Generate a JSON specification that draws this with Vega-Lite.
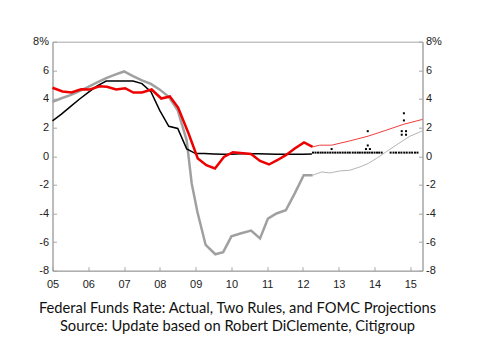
{
  "$schema": "https://vega.github.io/schema/vega-lite/v6.json",
  "width": 370,
  "height": 229,
  "autosize": {"type": "none"},
  "padding": {"left": 52.5, "top": 41.7, "right": 57.3, "bottom": 89.3},
  "background": "white",
  "config": {
    "view": {"stroke": "#a6a6a6", "strokeWidth": 1},
    "axis": {
      "labelFont": "Liberation Sans",
      "labelFontSize": 11,
      "labelColor": "#222222",
      "domainColor": "#a6a6a6",
      "tickColor": "#a6a6a6",
      "grid": false,
      "labelOverlap": false,
      "title": null
    },
    "title": {"font": "Lato", "fontSize": 14.7, "color": "#111111", "fontWeight": "normal", "lineHeight": 18}
  },
  "title": {
    "text": ["Federal Funds Rate: Actual, Two Rules, and FOMC Projections", "Source: Update based on Robert DiClemente, Citigroup"],
    "orient": "bottom",
    "anchor": "middle",
    "offset": 11
  },
  "datasets": {
    "lines": [
      {"series": "actual", "year": 2005, "rate": 2.47},
      {"series": "actual", "year": 2005.25, "rate": 2.94},
      {"series": "actual", "year": 2005.5, "rate": 3.46},
      {"series": "actual", "year": 2005.75, "rate": 3.98},
      {"series": "actual", "year": 2006, "rate": 4.46},
      {"series": "actual", "year": 2006.25, "rate": 4.91},
      {"series": "actual", "year": 2006.5, "rate": 5.25},
      {"series": "actual", "year": 2006.75, "rate": 5.25},
      {"series": "actual", "year": 2007, "rate": 5.26},
      {"series": "actual", "year": 2007.25, "rate": 5.25},
      {"series": "actual", "year": 2007.5, "rate": 5.07},
      {"series": "actual", "year": 2007.75, "rate": 4.5},
      {"series": "actual", "year": 2008, "rate": 3.18},
      {"series": "actual", "year": 2008.25, "rate": 2.09},
      {"series": "actual", "year": 2008.5, "rate": 1.94},
      {"series": "actual", "year": 2008.75, "rate": 0.51},
      {"series": "actual", "year": 2009, "rate": 0.18},
      {"series": "actual", "year": 2009.25, "rate": 0.18},
      {"series": "actual", "year": 2009.5, "rate": 0.16},
      {"series": "actual", "year": 2009.75, "rate": 0.14},
      {"series": "actual", "year": 2010, "rate": 0.14},
      {"series": "actual", "year": 2010.25, "rate": 0.17},
      {"series": "actual", "year": 2010.5, "rate": 0.17},
      {"series": "actual", "year": 2010.75, "rate": 0.17},
      {"series": "actual", "year": 2011, "rate": 0.15},
      {"series": "actual", "year": 2011.25, "rate": 0.14},
      {"series": "actual", "year": 2011.5, "rate": 0.14},
      {"series": "actual", "year": 2011.75, "rate": 0.14},
      {"series": "actual", "year": 2012, "rate": 0.14},
      {"series": "actual", "year": 2012.25, "rate": 0.15},

      {"series": "gray", "year": 2005, "rate": 3.8},
      {"series": "gray", "year": 2005.25, "rate": 4.05},
      {"series": "gray", "year": 2005.5, "rate": 4.27},
      {"series": "gray", "year": 2005.75, "rate": 4.55},
      {"series": "gray", "year": 2006, "rate": 4.84},
      {"series": "gray", "year": 2006.25, "rate": 5.15},
      {"series": "gray", "year": 2006.5, "rate": 5.45},
      {"series": "gray", "year": 2006.75, "rate": 5.7},
      {"series": "gray", "year": 2007, "rate": 5.92},
      {"series": "gray", "year": 2007.25, "rate": 5.6},
      {"series": "gray", "year": 2007.5, "rate": 5.3},
      {"series": "gray", "year": 2007.75, "rate": 5.05},
      {"series": "gray", "year": 2008, "rate": 4.65},
      {"series": "gray", "year": 2008.25, "rate": 4.15},
      {"series": "gray", "year": 2008.5, "rate": 3.2},
      {"series": "gray", "year": 2008.75, "rate": 1.1},
      {"series": "gray", "year": 2008.89, "rate": -1.9},
      {"series": "gray", "year": 2009.05, "rate": -3.9},
      {"series": "gray", "year": 2009.28, "rate": -6.2},
      {"series": "gray", "year": 2009.55, "rate": -6.85},
      {"series": "gray", "year": 2009.77, "rate": -6.7},
      {"series": "gray", "year": 2010.0, "rate": -5.6},
      {"series": "gray", "year": 2010.25, "rate": -5.4},
      {"series": "gray", "year": 2010.55, "rate": -5.2},
      {"series": "gray", "year": 2010.8, "rate": -5.75},
      {"series": "gray", "year": 2011.02, "rate": -4.36},
      {"series": "gray", "year": 2011.26, "rate": -4.0},
      {"series": "gray", "year": 2011.52, "rate": -3.78},
      {"series": "gray", "year": 2011.77, "rate": -2.6},
      {"series": "gray", "year": 2012.02, "rate": -1.33},
      {"series": "gray", "year": 2012.27, "rate": -1.33},

      {"series": "grayproj", "year": 2012.27, "rate": -1.33},
      {"series": "grayproj", "year": 2012.52, "rate": -1.1},
      {"series": "grayproj", "year": 2012.75, "rate": -1.17},
      {"series": "grayproj", "year": 2013.03, "rate": -1.03},
      {"series": "grayproj", "year": 2013.31, "rate": -0.98},
      {"series": "grayproj", "year": 2013.59, "rate": -0.75},
      {"series": "grayproj", "year": 2013.82, "rate": -0.51},
      {"series": "grayproj", "year": 2014.05, "rate": -0.16},
      {"series": "grayproj", "year": 2014.6, "rate": 0.77},
      {"series": "grayproj", "year": 2014.99, "rate": 1.4},
      {"series": "grayproj", "year": 2015.34, "rate": 1.77},

      {"series": "red", "year": 2005, "rate": 4.78},
      {"series": "red", "year": 2005.28, "rate": 4.52},
      {"series": "red", "year": 2005.53, "rate": 4.45},
      {"series": "red", "year": 2005.8, "rate": 4.68},
      {"series": "red", "year": 2006.05, "rate": 4.66},
      {"series": "red", "year": 2006.31, "rate": 4.88},
      {"series": "red", "year": 2006.52, "rate": 4.85},
      {"series": "red", "year": 2006.78, "rate": 4.66},
      {"series": "red", "year": 2007.03, "rate": 4.75},
      {"series": "red", "year": 2007.26, "rate": 4.45},
      {"series": "red", "year": 2007.5, "rate": 4.45},
      {"series": "red", "year": 2007.77, "rate": 4.66},
      {"series": "red", "year": 2008.04, "rate": 4.03},
      {"series": "red", "year": 2008.28, "rate": 4.17},
      {"series": "red", "year": 2008.51, "rate": 3.4},
      {"series": "red", "year": 2008.8, "rate": 1.6},
      {"series": "red", "year": 2009.06, "rate": -0.16},
      {"series": "red", "year": 2009.3, "rate": -0.63},
      {"series": "red", "year": 2009.54, "rate": -0.86},
      {"series": "red", "year": 2009.79, "rate": -0.05},
      {"series": "red", "year": 2010.04, "rate": 0.28},
      {"series": "red", "year": 2010.26, "rate": 0.23},
      {"series": "red", "year": 2010.55, "rate": 0.15},
      {"series": "red", "year": 2010.8, "rate": -0.33},
      {"series": "red", "year": 2011.05, "rate": -0.58},
      {"series": "red", "year": 2011.28, "rate": -0.28},
      {"series": "red", "year": 2011.52, "rate": 0.07},
      {"series": "red", "year": 2011.77, "rate": 0.54},
      {"series": "red", "year": 2012.03, "rate": 0.96},
      {"series": "red", "year": 2012.27, "rate": 0.65},

      {"series": "redproj", "year": 2012.27, "rate": 0.65},
      {"series": "redproj", "year": 2012.47, "rate": 0.77},
      {"series": "redproj", "year": 2012.8, "rate": 0.77},
      {"series": "redproj", "year": 2013.31, "rate": 1.07},
      {"series": "redproj", "year": 2013.82, "rate": 1.4},
      {"series": "redproj", "year": 2014.33, "rate": 1.82},
      {"series": "redproj", "year": 2014.8, "rate": 2.22},
      {"series": "redproj", "year": 2015.34, "rate": 2.57}
    ],
    "fomc": [
      {"year": 2012.28, "rate": 0.25}, {"year": 2012.35, "rate": 0.25}, {"year": 2012.42, "rate": 0.25}, {"year": 2012.49, "rate": 0.25},
      {"year": 2012.55, "rate": 0.25}, {"year": 2012.62, "rate": 0.25}, {"year": 2012.69, "rate": 0.25}, {"year": 2012.76, "rate": 0.25},
      {"year": 2012.83, "rate": 0.25}, {"year": 2012.9, "rate": 0.25}, {"year": 2012.97, "rate": 0.25}, {"year": 2013.04, "rate": 0.25},
      {"year": 2013.11, "rate": 0.25}, {"year": 2013.18, "rate": 0.25}, {"year": 2013.25, "rate": 0.25}, {"year": 2013.31, "rate": 0.25},
      {"year": 2012.8, "rate": 0.5},
      {"year": 2013.39, "rate": 0.25}, {"year": 2013.46, "rate": 0.25}, {"year": 2013.53, "rate": 0.25}, {"year": 2013.59, "rate": 0.25},
      {"year": 2013.66, "rate": 0.25}, {"year": 2013.73, "rate": 0.25}, {"year": 2013.8, "rate": 0.25}, {"year": 2013.86, "rate": 0.25},
      {"year": 2013.93, "rate": 0.25}, {"year": 2014.0, "rate": 0.25}, {"year": 2014.07, "rate": 0.25}, {"year": 2014.13, "rate": 0.25},
      {"year": 2014.2, "rate": 0.25},
      {"year": 2013.76, "rate": 0.5}, {"year": 2013.87, "rate": 0.5}, {"year": 2013.81, "rate": 0.75}, {"year": 2013.81, "rate": 1.75},
      {"year": 2014.45, "rate": 0.25}, {"year": 2014.53, "rate": 0.25}, {"year": 2014.6, "rate": 0.25}, {"year": 2014.68, "rate": 0.25},
      {"year": 2014.75, "rate": 0.25}, {"year": 2014.83, "rate": 0.25}, {"year": 2014.9, "rate": 0.25}, {"year": 2014.98, "rate": 0.25},
      {"year": 2015.05, "rate": 0.25}, {"year": 2015.13, "rate": 0.25}, {"year": 2015.2, "rate": 0.25},
      {"year": 2014.76, "rate": 1.5}, {"year": 2014.88, "rate": 1.5}, {"year": 2014.76, "rate": 1.75}, {"year": 2014.88, "rate": 1.75},
      {"year": 2014.82, "rate": 2.5}, {"year": 2014.82, "rate": 3.0}
    ]
  },
  "resolve": {"axis": {"x": "independent", "y": "independent"}},
  "layer": [
    {
      "mark": {"type": "rule", "color": "#a6a6a6", "strokeWidth": 1.5},
      "encoding": {
        "y": {"datum": 0, "type": "quantitative",
          "scale": {"domain": [-8, 8], "nice": false, "zero": false},
          "axis": {"orient": "left", "values": [-8, -6, -4, -2, 0, 2, 4, 6, 8], "tickSize": -4, "labelPadding": 8,
            "labelExpr": "datum.value == 8 ? '8%' : toString(datum.value)"}}
      }
    },
    {
      "data": {"name": "lines"},
      "transform": [{"filter": "datum.series == 'gray'"}],
      "mark": {"type": "line", "color": "#a0a0a0", "strokeWidth": 2.5},
      "encoding": {
        "x": {"field": "year", "type": "quantitative", "scale": {"domain": [2005, 2015.34], "nice": false, "zero": false},
          "axis": {"orient": "bottom", "values": [2005, 2006, 2007, 2008, 2009, 2010, 2011, 2012, 2013, 2014, 2015], "tickSize": -4, "labelPadding": 12,
            "labelOverlap": false, "labelFlush": false, "labelBound": false,
            "labelExpr": "substring(toString(datum.value), 2)"}},
        "y": {"field": "rate", "type": "quantitative", "axis": null}
      }
    },
    {
      "data": {"name": "lines"},
      "transform": [{"filter": "datum.series == 'grayproj'"}],
      "mark": {"type": "line", "color": "#b4b4b4", "strokeWidth": 1},
      "encoding": {
        "x": {"field": "year", "type": "quantitative", "axis": null},
        "y": {"field": "rate", "type": "quantitative", "axis": null}
      }
    },
    {
      "data": {"name": "lines"},
      "transform": [{"filter": "datum.series == 'actual'"}],
      "mark": {"type": "line", "color": "#000000", "strokeWidth": 1.5},
      "encoding": {
        "x": {"field": "year", "type": "quantitative", "axis": null},
        "y": {"field": "rate", "type": "quantitative", "axis": null}
      }
    },
    {
      "data": {"name": "lines"},
      "transform": [{"filter": "datum.series == 'red'"}],
      "mark": {"type": "line", "color": "#ee0000", "strokeWidth": 2.5},
      "encoding": {
        "x": {"field": "year", "type": "quantitative", "axis": null},
        "y": {"field": "rate", "type": "quantitative", "axis": null}
      }
    },
    {
      "data": {"name": "lines"},
      "transform": [{"filter": "datum.series == 'redproj'"}],
      "mark": {"type": "line", "color": "#f03c3c", "strokeWidth": 1},
      "encoding": {
        "x": {"field": "year", "type": "quantitative", "axis": null},
        "y": {"field": "rate", "type": "quantitative", "axis": null}
      }
    },
    {
      "data": {"name": "fomc"},
      "mark": {"type": "square", "color": "#000000", "size": 4, "filled": true, "opacity": 1},
      "encoding": {
        "x": {"field": "year", "type": "quantitative", "axis": null},
        "y": {"field": "rate", "type": "quantitative",
          "axis": {"orient": "right", "values": [-8, -6, -4, -2, 0, 2, 4, 6, 8], "tickSize": -4, "labelPadding": 7,
            "labelExpr": "datum.value == 8 ? '8%' : toString(datum.value)"}}
      }
    }
  ]
}
